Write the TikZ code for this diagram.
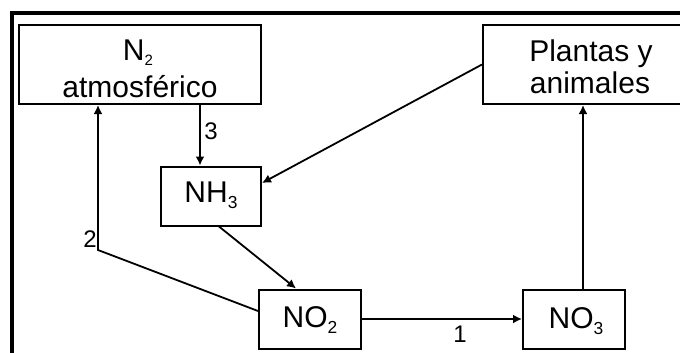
\documentclass[tikz,border=0pt]{standalone}
\usepackage{fontspec}
\setmainfont{Liberation Sans}
\usetikzlibrary{arrows.meta}
\newcommand\bigtxt{\fontsize{30}{31}\selectfont}
\newcommand\subtxt[1]{\raisebox{-6pt}{\scalebox{0.58}{#1}}}
\tikzset{
  box/.style={draw, line width=2pt, rectangle, inner sep=0pt, font=\bigtxt},
  txt/.style={inner sep=0pt, font=\bigtxt, anchor=base},
  arr/.style={line width=1.8pt, -{Latex[length=9pt,width=9pt]}},
  lbl/.style={font=\bigtxt, inner sep=0pt},
}
\begin{document}
\begin{tikzpicture}[x=1pt,y=-1pt]
\useasboundingbox (0,0) rectangle (680,353);
\clip (0,0) rectangle (680,353);
\fill[white] (0,0) rectangle (680,353);
\draw[line width=4pt] (12,13) rectangle (720,380);
\node[box, minimum width=242pt, minimum height=79pt] (n2) at (140,64.5) {};
\node[txt] (n2a) at (138,60) {N\raisebox{-5pt}{\scalebox{0.5}{2}}};
\node[txt] (n2b) at (140,97) {atmosférico};
\node[box, minimum width=100pt, minimum height=59pt] (nh3) at (211,196) {};
\node[txt] (nh3t) at (211,202) {NH\subtxt{3}};
\node[box, minimum width=102pt, minimum height=59pt] (no2) at (310,319) {};
\node[txt] (no2t) at (310,327) {NO\subtxt{2}};
\node[box, minimum width=102pt, minimum height=59pt] (no3) at (574,319) {};
\node[txt] (no3t) at (576,328) {NO\subtxt{3}};
\node[box, minimum width=214pt, minimum height=79pt] (pl) at (590,64.5) {};
\node[txt] (pla) at (591,62) {Plantas y};
\node[txt] (plb) at (590,93) {animales};
\coordinate (c2) at (98,250);
\draw[arr] ([xshift=60pt]n2.south) -- ([xshift=60pt]n2.south |- nh3.north);
\draw[arr] (pl.west) -- ([yshift=13pt]nh3.east);
\draw[arr] ([xshift=8pt]nh3.south) -- ([xshift=-14pt]no2.north);
\draw[arr] ([yshift=8pt]no2.west) -- (c2) -- (c2 |- n2.south);
\draw[arr] (no2) -- (no3);
\draw[arr] ([xshift=9pt]no3.north) -- ([xshift=9pt]no3.north |- pl.south);
\node[lbl] (l3) at (211,131) {\scalebox{0.8}{3}};
\node[lbl] (l2) at (90,239) {\scalebox{0.8}{2}};
\node[lbl] (l1) at (460,334) {\scalebox{0.8}{1}};
\end{tikzpicture}
\end{document}
